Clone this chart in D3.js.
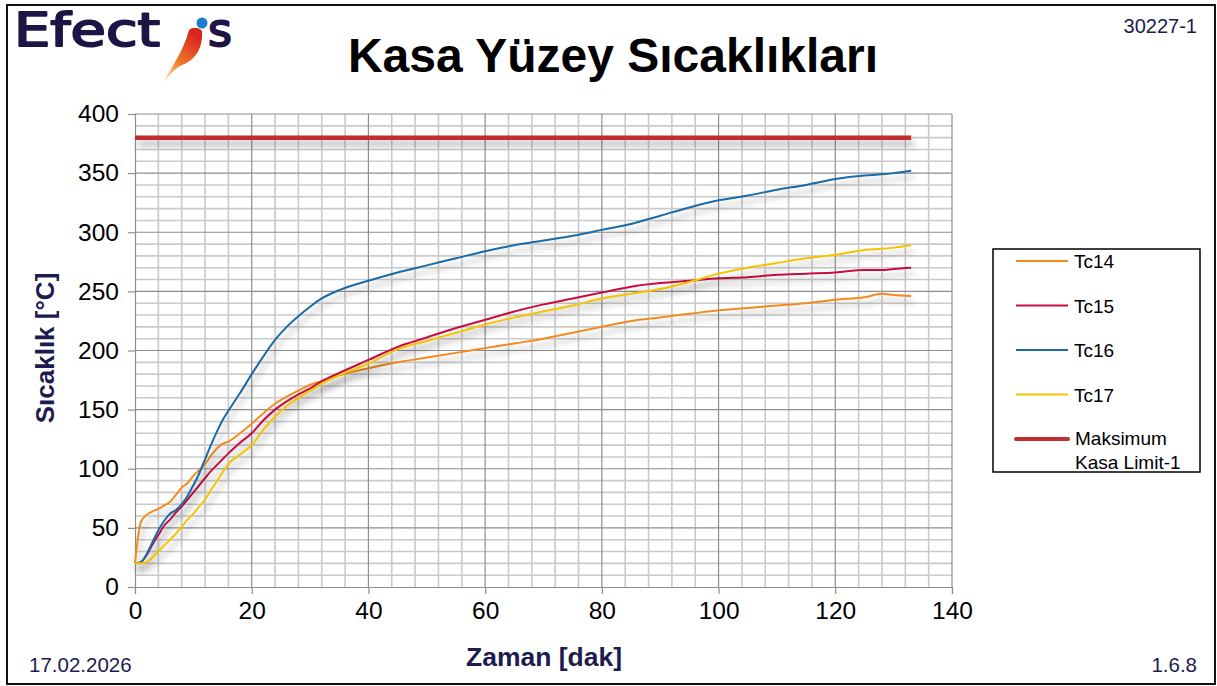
<!DOCTYPE html>
<html>
<head>
<meta charset="utf-8">
<script src="https://cdn.jsdelivr.net/npm/d3@7"></script>
<style>
  body { margin: 0; background: #fff; }
  svg { display: block; font-family: "Liberation Sans", Arial, sans-serif; }
</style>
</head>
<body>
<div id="chart"></div>
<script>
const width = 1217;
const height = 686;

// data (minutes / °C)
const minutes = [0, 1, 2, 3, 4, 5, 6, 7, 8, 9, 10, 11, 12, 13, 14, 15, 16, 18, 20, 22, 24, 26, 28, 30, 32, 35,
  40, 45, 50, 55, 60, 65, 70, 75, 80, 85, 90, 95, 100, 105, 110, 115, 120, 125, 128, 130, 133];
const tc14 = [20, 55, 61, 64, 66, 69, 72, 78, 84, 88, 94, 99, 104, 111, 117, 121, 123, 130, 138, 147, 155, 161, 166, 171, 174, 179,
  185, 190, 194, 198, 202, 206, 210, 215, 220, 225, 228, 231, 234, 236, 238, 240, 243, 245, 248, 247, 246];
const tc15 = [20, 21, 27, 36, 44, 52, 57, 63, 68, 74, 80, 86, 92, 98, 103, 108, 113, 122, 130, 141, 150, 157, 163, 168, 174, 181,
  192, 203, 211, 219, 226, 233, 239, 244, 249, 254, 257, 259, 261, 262, 264, 265, 266, 268, 268, 269, 270];
const tc16 = [20, 21, 28, 38, 48, 56, 62, 65, 70, 77, 86, 96, 108, 120, 131, 141, 149, 164, 180, 195, 209, 220, 229, 237, 244, 251,
  259, 266, 272, 278, 284, 289, 293, 297, 302, 307, 314, 321, 327, 331, 336, 340, 345, 348, 349, 350, 352];
const tc17 = [20, 20, 21, 25, 30, 35, 40, 45, 51, 57, 62, 68, 74, 82, 89, 97, 104, 112, 120, 133, 144, 153, 160, 166, 172, 179,
  189, 201, 208, 215, 222, 228, 233, 238, 244, 248, 252, 258, 265, 270, 274, 278, 281, 285, 286, 287, 289];
const limitMinutes = [0, 133];
const limitValues = [380, 380];

const seriesNames = ["Tc14", "Tc15", "Tc16", "Tc17"];
const seriesColors = ["#f58a1f", "#c8103e", "#1a6aa6", "#f6c300"];
const limitName = ["Maksimum", "Kasa Limit-1"];
const limitColor = "#bf2f2c";

const xTicks = [0, 20, 40, 60, 80, 100, 120, 140];
const yTicks = [0, 50, 100, 150, 200, 250, 300, 350, 400];

const navy = "#1c1c50";

const svg = d3
  .select("#chart")
  .append("svg")
  .attr("width", width)
  .attr("height", height);

const defs = svg.append("defs");
// user space units, so the flat limit line keeps its shadow too
const shadow = defs.append("filter")
  .attr("id", "shadow")
  .attr("filterUnits", "userSpaceOnUse")
  .attr("x", 0).attr("y", 0)
  .attr("width", width).attr("height", height);
shadow.append("feDropShadow")
  .attr("dx", 3).attr("dy", 6)
  .attr("stdDeviation", 3)
  .attr("flood-color", "#000")
  .attr("flood-opacity", 0.3);

const flameGrad = defs.append("linearGradient")
  .attr("id", "flame")
  .attr("x1", "0").attr("y1", "1").attr("x2", "0.6").attr("y2", "0");
flameGrad.append("stop").attr("offset", "0%").attr("stop-color", "#fbb040").attr("stop-opacity", 0.3);
flameGrad.append("stop").attr("offset", "45%").attr("stop-color", "#f07a2a");
flameGrad.append("stop").attr("offset", "100%").attr("stop-color", "#d9261c");

// outer frame
svg.append("rect")
  .attr("x", 7).attr("y", 5)
  .attr("width", 1208).attr("height", 679)
  .attr("fill", "#fff")
  .attr("stroke", "#111")
  .attr("stroke-width", 2);

// logo //////////////////////////////
const logo = svg.append("g");
logo.append("text")
  .attr("x", 14).attr("y", 46)
  .attr("textLength", 146)
  .attr("lengthAdjust", "spacingAndGlyphs")
  .style("font-family", "DejaVu Sans")
  .style("font-size", "46px")
  .attr("fill", "#1e1446")
  .attr("stroke", "#1e1446")
  .attr("stroke-width", 2)
  .attr("stroke-linejoin", "round")
  .text("Efect");
logo.append("text")
  .attr("x", 208).attr("y", 46)
  .style("font-family", "DejaVu Sans")
  .style("font-size", "46px")
  .attr("fill", "#1e1446")
  .attr("stroke", "#1e1446")
  .attr("stroke-width", 2)
  .attr("stroke-linejoin", "round")
  .text("s");
logo.append("path")
  .attr("d", "M163,83 C172,66 183,52 189,30 C193,27 198,27 202,31 C203,48 196,60 180,66 C174,70 168,76 163,83 Z")
  .attr("fill", "url(#flame)");
logo.append("circle")
  .attr("cx", 202).attr("cy", 23).attr("r", 5.5)
  .attr("fill", "#1b7fd0");

// texts //////////////////////////////
svg.append("text")
  .attr("x", 613).attr("y", 72)
  .attr("text-anchor", "middle")
  .style("font-size", "48px")
  .style("font-weight", "bold")
  .attr("fill", "#000")
  .text("Kasa Yüzey Sıcaklıkları");

svg.append("text")
  .attr("x", 1197).attr("y", 33)
  .attr("text-anchor", "end")
  .style("font-size", "20px")
  .attr("fill", navy)
  .text("30227-1");

svg.append("text")
  .attr("x", 29).attr("y", 672)
  .style("font-size", "20.5px")
  .attr("fill", navy)
  .text("17.02.2026");

svg.append("text")
  .attr("x", 1197).attr("y", 672)
  .attr("text-anchor", "end")
  .style("font-size", "20.5px")
  .attr("fill", navy)
  .text("1.6.8");

// scales //////////////////////////////
const x = d3.scaleLinear().domain([0, 140]).range([135, 952]);
const y = d3.scaleLinear().domain([0, 400]).range([587, 114]);

const plot = svg.append("g");

// grid
const minorX = d3.range(0, 141, 4).filter(v => v % 20 !== 0);
const minorY = d3.range(0, 401, 10).filter(v => v % 50 !== 0);

plot.selectAll(".minorX")
  .data(minorX)
  .enter()
  .append("line")
  .attr("x1", d => x(d)).attr("x2", d => x(d))
  .attr("y1", y(400)).attr("y2", y(0))
  .attr("stroke", "#cacaca")
  .attr("stroke-width", 1.6);

plot.selectAll(".minorY")
  .data(minorY)
  .enter()
  .append("line")
  .attr("x1", x(0)).attr("x2", x(140))
  .attr("y1", d => y(d)).attr("y2", d => y(d))
  .attr("stroke", "#cacaca")
  .attr("stroke-width", 1.6);

plot.selectAll(".majorX")
  .data(xTicks.slice(1))
  .enter()
  .append("line")
  .attr("x1", d => x(d)).attr("x2", d => x(d))
  .attr("y1", y(400)).attr("y2", y(0))
  .attr("stroke", "#8e8e8e")
  .attr("stroke-width", 1.2);

plot.selectAll(".majorY")
  .data(yTicks.slice(1))
  .enter()
  .append("line")
  .attr("x1", x(0)).attr("x2", x(140))
  .attr("y1", d => y(d)).attr("y2", d => y(d))
  .attr("stroke", "#8e8e8e")
  .attr("stroke-width", 1.2);

// axes
const xAxis = d3.axisBottom(x).tickValues(xTicks).tickSize(7).tickPadding(8);
const yAxis = d3.axisLeft(y).tickValues(yTicks).tickSize(7).tickPadding(9);

const gx = svg.append("g").attr("transform", `translate(0,${y(0)})`).call(xAxis);
const gy = svg.append("g").attr("transform", `translate(${x(0)},0)`).call(yAxis);

[gx, gy].forEach(g => {
  g.select(".domain").attr("stroke", "#8e8e8e").attr("stroke-width", 1.2);
  g.selectAll(".tick line").attr("stroke", "#8e8e8e").attr("stroke-width", 1.2);
  g.selectAll(".tick text")
    .attr("fill", "#000")
    .style("font-size", "24.5px")
    .style("font-family", "Liberation Sans, Arial, sans-serif");
});

svg.append("text")
  .attr("transform", "translate(54,348) rotate(-90)")
  .attr("text-anchor", "middle")
  .style("font-size", "26px")
  .style("font-weight", "bold")
  .attr("fill", navy)
  .text("Sıcaklık [°C]");

svg.append("text")
  .attr("x", 544).attr("y", 666)
  .attr("text-anchor", "middle")
  .style("font-size", "26.5px")
  .style("font-weight", "bold")
  .attr("fill", navy)
  .text("Zaman [dak]");

// lines //////////////////////////////
const line = d3.line()
  .x(d => x(d[0]))
  .y(d => y(d[1]))
  .curve(d3.curveMonotoneX);

const series = [tc14, tc15, tc16, tc17];
const lineLayer = svg.append("g");

lineLayer.append("path")
  .datum(limitMinutes.map((m, i) => [m, limitValues[i]]))
  .attr("d", line)
  .attr("fill", "none")
  .attr("stroke", limitColor)
  .attr("stroke-width", 4.5)
  .attr("filter", "url(#shadow)");

series.forEach((values, i) => {
  lineLayer.append("path")
    .datum(minutes.map((m, j) => [m, values[j]]))
    .attr("d", line)
    .attr("fill", "none")
    .attr("stroke", seriesColors[i])
    .attr("stroke-width", 2)
    .attr("stroke-linejoin", "round")
    .attr("filter", "url(#shadow)");
});

// legend //////////////////////////////
const legend = svg.append("g");
legend.append("rect")
  .attr("x", 993).attr("y", 249)
  .attr("width", 207).attr("height", 223)
  .attr("fill", "#fff")
  .attr("stroke", "#000")
  .attr("stroke-width", 1.5);

const legendY = d3.scalePoint().domain(seriesNames.concat(["limit"])).range([261, 439]);

seriesNames.forEach((name, i) => {
  legend.append("line")
    .attr("x1", 1016).attr("x2", 1068)
    .attr("y1", legendY(name)).attr("y2", legendY(name))
    .attr("stroke", seriesColors[i])
    .attr("stroke-width", 2);
  legend.append("text")
    .attr("x", 1074).attr("y", legendY(name) + 7)
    .style("font-size", "19px")
    .attr("fill", "#000")
    .text(name);
});

legend.append("line")
  .attr("x1", 1016).attr("x2", 1068)
  .attr("y1", legendY("limit")).attr("y2", legendY("limit"))
  .attr("stroke", limitColor)
  .attr("stroke-width", 4)
  .attr("stroke-linecap", "round");
limitName.forEach((t, i) => {
  legend.append("text")
    .attr("x", 1075).attr("y", legendY("limit") + 6 + i * 24)
    .style("font-size", "19px")
    .attr("fill", "#000")
    .text(t);
});
</script>
</body>
</html>
